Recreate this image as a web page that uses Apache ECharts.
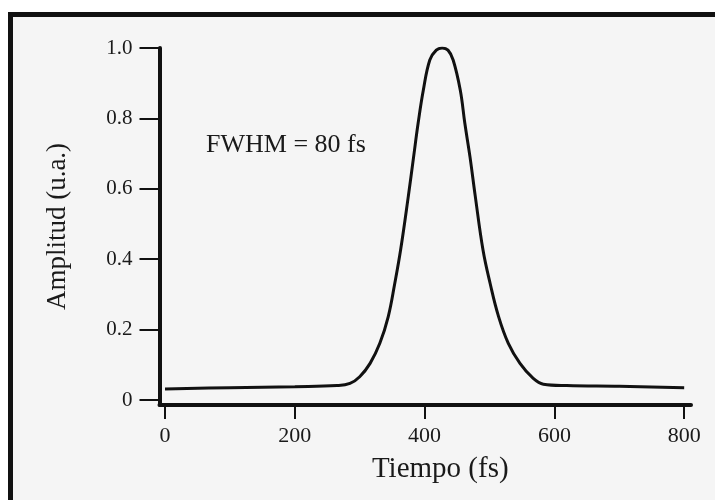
<!DOCTYPE html>
<html>
<head>
<meta charset="utf-8">
<title>Pulso</title>
<script src="https://cdn.jsdelivr.net/npm/echarts@6/dist/echarts.min.js"></script>
<style>
    html, body { margin: 0; padding: 0; background: #fff; overflow: hidden; }
    #marco {
        position: absolute; left: 8px; top: 12px; width: 760px; height: 560px;
        border-left: 5px solid #111; border-top: 5px solid #111;
        background: #f5f5f5;
    }
    #main { position: absolute; left: 0; top: 0; width: 715px; height: 500px; }
</style>
</head>
<body>
<div id="marco"></div>
<div id="main"></div>
<script>
// datos
var tiempo   = [0, 100, 200, 265, 285, 300, 316, 331, 344, 354, 363, 375, 383, 390, 398, 408, 418, 427, 436, 444, 455, 462, 470, 478, 490, 501, 514, 529, 547, 567, 583, 619, 700, 800];
var amplitud = [0.031, 0.035, 0.038, 0.041, 0.047, 0.066, 0.104, 0.161, 0.237, 0.331, 0.426, 0.58, 0.69, 0.786, 0.88, 0.966, 0.994, 1.0, 0.994, 0.966, 0.88, 0.786, 0.69, 0.58, 0.426, 0.331, 0.237, 0.161, 0.104, 0.062, 0.045, 0.041, 0.039, 0.035];
var xTicks = [0, 200, 400, 600, 800];
var yTicks = [0, 0.2, 0.4, 0.6, 0.8, 1.0];

init();
function init(){
    var myChart = echarts.init(document.getElementById('main'), null, {renderer: 'canvas'});
    var puntos = [];
    for (var i = 0; i < tiempo.length; i++) {
        puntos.push([tiempo[i], amplitud[i]]);
    }
    var fuente = 'Liberation Serif';
    var option = {
        backgroundColor: 'transparent',
        animation: false,
        grid: {left: 159.5, right: 24, top: 48, bottom: 95},
        xAxis: {
            type: 'value',
            min: -8.5,
            max: 810.5,
            name: 'Tiempo (fs)',
            nameLocation: 'middle',
            nameGap: 50,
            nameTextStyle: {fontFamily: fuente, fontSize: 29, color: '#1a1a1a', padding: [0, 0, 0, 30]},
            splitLine: {show: false},
            axisLine: {onZero: false, lineStyle: {color: '#111', width: 4}},
            axisTick: {show: true, length: 14, lineStyle: {color: '#111', width: 2}, customValues: xTicks},
            axisLabel: {fontFamily: fuente, fontSize: 22, color: '#1a1a1a', margin: 20, customValues: xTicks}
        },
        yAxis: {
            type: 'value',
            min: -0.0142,
            max: 1.0,
            name: 'Amplitud (u.a.)',
            nameLocation: 'middle',
            nameGap: 88,
            nameTextStyle: {fontFamily: fuente, fontSize: 27, color: '#1a1a1a'},
            splitLine: {show: false},
            axisLine: {show: true, onZero: false, lineStyle: {color: '#111', width: 4}},
            axisTick: {show: true, length: 20, lineStyle: {color: '#111', width: 2}, customValues: yTicks},
            axisLabel: {
                fontFamily: fuente, fontSize: 21, color: '#1a1a1a', margin: 27, customValues: yTicks,
                formatter: function (v) { return v === 0 ? '0' : v.toFixed(1); }
            }
        },
        graphic: [
            {
                type: 'text',
                left: 206,
                top: 132,
                style: {text: 'FWHM = 80 fs', font: '26px "Liberation Serif"', fill: '#1a1a1a'}
            }
        ],
        series: [
            {
                name: 'pulso',
                type: 'line',
                data: puntos,
                smooth: 0.4,
                showSymbol: false,
                lineStyle: {color: '#111', width: 3}
            }
        ]
    };
    myChart.setOption(option);
}
</script>
</body>
</html>
